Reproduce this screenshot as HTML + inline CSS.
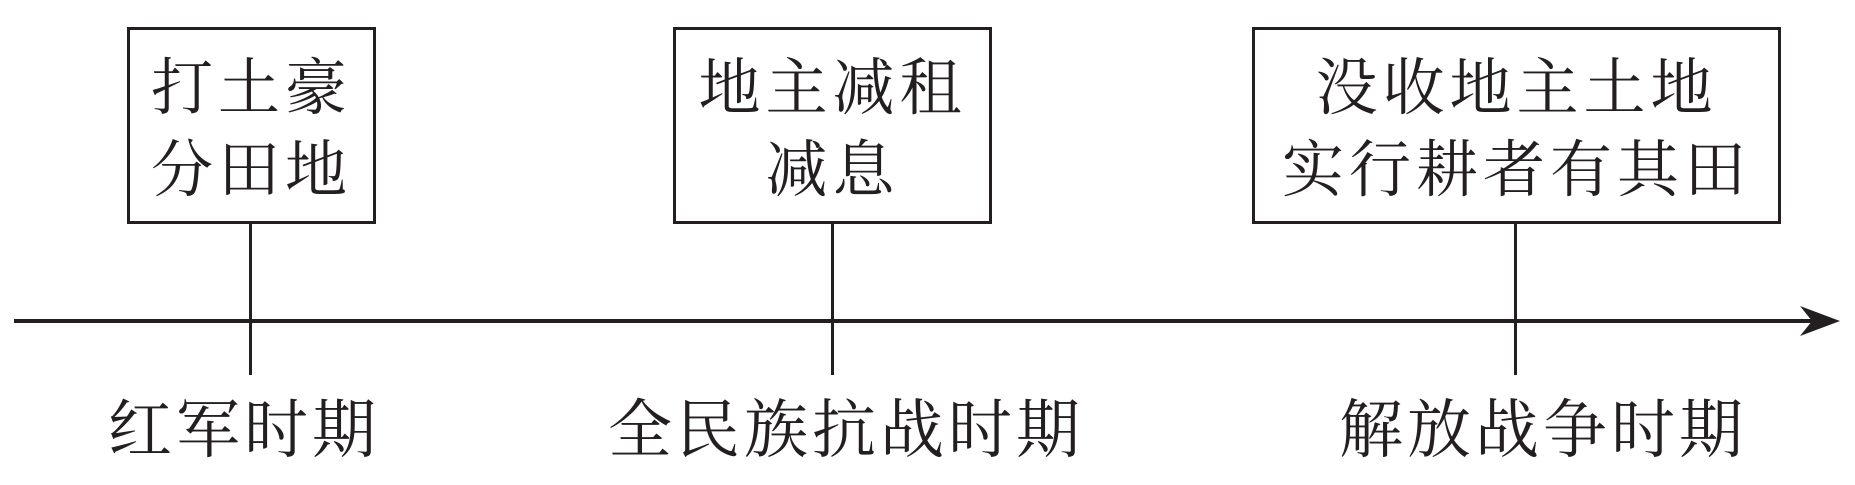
<!DOCTYPE html>
<html><head><meta charset="utf-8"><style>
body{margin:0;width:1855px;height:485px;background:#fff;position:relative;overflow:hidden;font-family:"Liberation Serif","Noto Serif CJK SC",serif;color:#231f20}
.box{position:absolute;border:3.5px solid #231f20;box-sizing:border-box;text-align:center;font-size:62px;line-height:82px;letter-spacing:5px;padding-top:18px}
.l{position:absolute;background:#231f20}
.lab{position:absolute;font-size:64px;letter-spacing:4px;line-height:70px;top:396px;white-space:nowrap}
</style></head><body>
<div class="box" style="left:127px;top:27px;width:249px;height:197px">打土豪<br>分田地</div>
<div class="box" style="left:673px;top:27px;width:319px;height:197px">地主减租<br>减息</div>
<div class="box" style="left:1252px;top:27px;width:529px;height:197px">没收地主土地<br>实行耕者有其田</div>
<div class="l" style="left:249px;top:223px;width:3px;height:152px"></div>
<div class="l" style="left:831px;top:223px;width:3px;height:152px"></div>
<div class="l" style="left:1514px;top:223px;width:3px;height:152px"></div>
<div class="l" style="left:14px;top:319px;width:1805px;height:4px"></div>
<svg style="position:absolute;left:0;top:0" width="1855" height="485"><polygon points="1840,321 1800,306 1812,321 1800,336" fill="#231f20"/></svg>
<div class="lab" style="left:108px">红军时期</div>
<div class="lab" style="left:608px">全民族抗战时期</div>
<div class="lab" style="left:1339px">解放战争时期</div>
</body></html>
